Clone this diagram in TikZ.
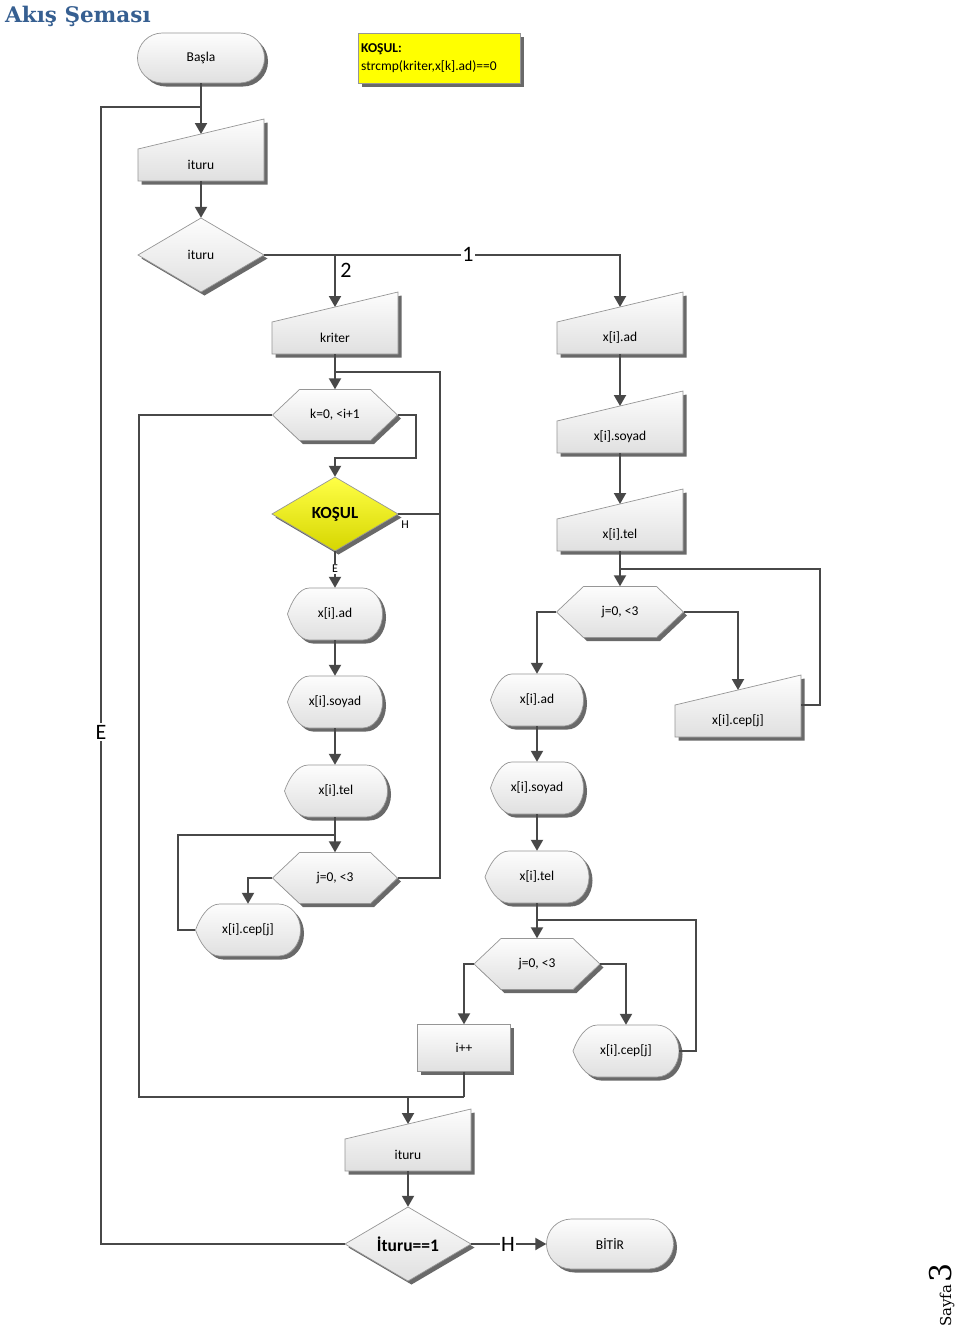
\documentclass[tikz,border=0pt]{standalone}
\usepackage{fontspec}
\setmainfont{Carlito}
\newfontfamily\titlefont{DejaVu Serif}
\usetikzlibrary{arrows.meta,calc}
\definecolor{linec}{RGB}{72,72,72}
\definecolor{edgec}{RGB}{150,150,150}
\definecolor{shadc}{RGB}{105,105,105}
\definecolor{fillt}{RGB}{253,253,253}
\definecolor{fillb}{RGB}{224,224,224}
\definecolor{titlec}{RGB}{54,95,145}
\definecolor{koyel}{RGB}{255,255,0}
\definecolor{kosult}{RGB}{255,255,70}
\definecolor{kosulb}{RGB}{214,214,0}
\tikzset{
  shp/.style={draw=edgec, line width=0.7pt, top color=fillt, bottom color=fillb},
  yshp/.style={draw=edgec, line width=0.7pt, top color=kosult, bottom color=kosulb},
  shd/.style={fill=shadc, draw=none},
  txt/.style={inner sep=0pt, font=\fontsize{13.5}{16}\selectfont, text=black},
  conn/.style={draw=linec, line width=2pt},
  arr/.style={conn, -{Triangle[length=11pt,width=12pt]}},
  lbl/.style={fill=white, inner sep=1.5pt, font=\fontsize{22}{24}\selectfont, text=black},
  slbl/.style={fill=white, inner sep=1pt, font=\fontsize{12}{14}\selectfont, text=black},
}
\newcommand{\Shaped}[2][shp]{\path[shd,shift={(3.5,3.5)}] #2; \path[#1] #2;}
\newcommand{\MInput}[4]{%
  \Shaped{({#2-63},{#3+30}) -- ({#2+63},#3) -- ({#2+63},{#3+62}) -- ({#2-63},{#3+62}) -- cycle}%
  \node[txt, minimum width=126pt, minimum height=32pt] (#1) at (#2,{#3+46}) {#4};%
  \coordinate (#1-top) at (#2,{#3+15});}
\newcommand{\HexS}[5]{%
  \Shaped{({#2-#4/2},#3) -- ({#2-#4/2+27},{#3-25.5}) -- ({#2+#4/2-27},{#3-25.5}) -- ({#2+#4/2},#3) -- ({#2+#4/2-27},{#3+25.5}) -- ({#2-#4/2+27},{#3+25.5}) -- cycle}%
  \node[txt, minimum width=#4pt, minimum height=51pt] (#1) at (#2,#3) {#5};}
\newcommand{\DiamS}[5][shp]{%
  \Shaped[#1]{({#3-63},#4) -- (#3,{#4-37}) -- ({#3+63},#4) -- (#3,{#4+37}) -- cycle}%
  \node[txt, minimum width=126pt, minimum height=74pt] (#2) at (#3,#4) {#5};}
\newcommand{\TermS}[4]{%
  \Shaped{[rounded corners=24.9pt] ({#2-63.5},{#3-25}) rectangle ({#2+63.5},{#3+25})}%
  \node[txt, minimum width=127pt, minimum height=50pt] (#1) at (#2,#3) {#4};}
\newcommand{\RectS}[6]{%
  \Shaped{({#2-#4/2},{#3-#5/2}) rectangle ({#2+#4/2},{#3+#5/2})}%
  \node[txt, minimum width=#4pt, minimum height=#5pt] (#1) at (#2,#3) {#6};}
\newcommand{\DispS}[5]{%
  \pgfmathsetmacro\qXa{#2-#4/2}\pgfmathsetmacro\qXb{#2+#4/2}%
  \pgfmathsetmacro\qYa{#3-26}\pgfmathsetmacro\qYb{#3+26}%
  \pgfmathsetmacro\qLa{\qXa+0.23*#4}\pgfmathsetmacro\qLb{\qXa+0.12*#4}\pgfmathsetmacro\qLc{\qXa+0.04*#4}%
  \pgfmathsetmacro\qRa{\qXb-0.21*#4}\pgfmathsetmacro\qRc{\qXb-0.21*#4+0.5523*0.21*#4}%
  \Shaped{(\qXa,#3) .. controls (\qLc,{#3-12}) and (\qLb,\qYa) .. (\qLa,\qYa) -- (\qRa,\qYa) .. controls (\qRc,\qYa) and (\qXb,{#3-14.4}) .. (\qXb,#3) .. controls (\qXb,{#3+14.4}) and (\qRc,\qYb) .. (\qRa,\qYb) -- (\qLa,\qYb) .. controls (\qLb,\qYb) and (\qLc,{#3+12}) .. (\qXa,#3) -- cycle}%
  \node[txt, minimum width=#4pt, minimum height=52pt] (#1) at (#2,#3) {#5};}

\begin{document}
\begin{tikzpicture}[x=1pt,y=-1pt]
\useasboundingbox (0,0) rectangle (960,1328);
\fill[white] (0,0) rectangle (960,1328);

% title and page number
\node[anchor=base west, inner sep=0, text=titlec, font=\titlefont\bfseries\fontsize{21.5}{24}\selectfont] (title) at (5,22) {Akış Şeması};
\node[rotate=90, anchor=base west, inner sep=0, font=\titlefont] (page) at (951,1327) {\fontsize{15}{18}\selectfont Sayfa\,\fontsize{30}{32}\selectfont 3};

% condition note
\path[shd, shift={(3.5,3.5)}] (358,33) rectangle (520,83);
\node[fill=koyel, draw=edgec, line width=0.5pt, minimum width=162pt, minimum height=50pt, inner sep=0, anchor=north west] (notebox) at (358,33) {};
\node[txt, anchor=west, align=left, font=\fontsize{13.5}{18}\selectfont] (notetext) at (361,58) {\textbf{KOŞUL:}\\strcmp(kriter,x[k].ad)==0};

% shapes
\TermS{start}{201}{58}{Başla}
\MInput{in1}{201}{119}{ituru}
\DiamS{dec1}{201}{255}{ituru}
\MInput{kriter}{335}{292}{kriter}
\MInput{xadR}{620}{292}{x[i].ad}
\MInput{xsoyR}{620}{391}{x[i].soyad}
\MInput{xtelR}{620}{489}{x[i].tel}
\HexS{k0}{335}{415}{125}{k=0, <i+1}
\DiamS[yshp]{kosul}{335}{514}{\fontsize{17}{20}\selectfont\bfseries KOŞUL}
\DispS{dAd}{335}{614}{95}{x[i].ad}
\DispS{dSoy}{335}{702}{95}{x[i].soyad}
\DispS{dTel}{336}{791}{103}{x[i].tel}
\HexS{jL}{335}{878}{125}{j=0, <3}
\DispS{dCepL}{248}{930}{105}{x[i].cep[j]}
\HexS{jR}{620}{612}{127}{j=0, <3}
\MInput{cepR}{738}{675}{x[i].cep[j]}
\DispS{dAdM}{537}{700}{93}{x[i].ad}
\DispS{dSoyM}{537}{788}{93}{x[i].soyad}
\DispS{dTelM}{537}{877}{104}{x[i].tel}
\HexS{jM}{537}{964}{126}{j=0, <3}
\RectS{ipp}{464}{1048}{93}{47}{i++}
\DispS{dCepM}{626}{1051}{106}{x[i].cep[j]}
\MInput{in2}{408}{1109}{ituru}
\DiamS{dec2}{408}{1244}{\fontsize{17.5}{20}\selectfont\bfseries İturu==1}
\TermS{stop}{610}{1244}{BİTİR}

% helper coordinates
\coordinate (loopE) at (101,107);
\coordinate (loopA) at (440,372);
\coordinate (loopB) at (416,458);
\coordinate (loopC) at (139,1097);
\coordinate (loopF) at (178,835);
\coordinate (loopG) at (820,569);
\coordinate (loopH) at (696,920);

% connectors
\draw[arr] (start.south) -- (in1-top);
\draw[conn] (dec2.west) -| (loopE) -- (loopE -| start.south);
\draw[arr] (in1.south) -- (dec1.north);
\draw[arr] (dec1.east) -| (xadR-top);
\draw[arr] (kriter-top |- dec1.east) -- (kriter-top);
\draw[arr] (xadR.south) -- (xsoyR-top);
\draw[arr] (xsoyR.south) -- (xtelR-top);
\draw[arr] (kriter.south) -- (k0.north);
\draw[conn] (jL.east) -| (loopA) -- (loopA -| k0.north);
\draw[conn] (kosul.east) -- (kosul.east -| loopA);
\draw[arr] (k0.east) -| (loopB) -| (kosul.north);
\draw[conn] (k0.west) -| (loopC) -- (ipp.south |- loopC);
\draw[conn] (ipp.south) -- (ipp.south |- loopC);
\draw[arr] (in2-top |- loopC) -- (in2-top);
\draw[arr] (kosul.south) -- (dAd.north);
\draw[arr] (dAd.south) -- (dSoy.north);
\draw[arr] (dSoy.south) -- (dAd.south |- dTel.north);
\draw[arr] (dAd.south |- dTel.south) -- (jL.north);
\draw[arr] (jL.west) -| (dCepL.north);
\draw[conn] (dCepL.west) -| (loopF) -- (loopF -| jL.north);
\draw[arr] (xtelR.south) -- (jR.north);
\draw[conn] (cepR.north east) -| (loopG) -- (loopG -| jR.north);
\draw[arr] (jR.west) -| (dAdM.north);
\draw[arr] (jR.east) -| (cepR-top);
\draw[arr] (dAdM.south) -- (dSoyM.north);
\draw[arr] (dSoyM.south) -- (dTelM.north);
\draw[arr] (dTelM.south) -- (jM.north);
\draw[conn] (dCepM.east) -| (loopH) -- (loopH -| jM.north);
\draw[arr] (jM.west) -| (ipp.north);
\draw[arr] (jM.east) -| (dCepM.north);
\draw[arr] (in2.south) -- (dec2.north);
\draw[arr] (dec2.east) -- (stop.west);

% labels
\node[lbl] (labE) at (101,732) {E};
\node[lbl] (lab1) at (468,254) {1};
\node[lbl, fill=none] (lab2) at (346,270) {2};
\node[slbl] (labH1) at (405,525) {H};
\node[slbl] (labE1) at (335,569) {E};
\node[lbl] (labH2) at (508,1244) {H};
\end{tikzpicture}
\end{document}
